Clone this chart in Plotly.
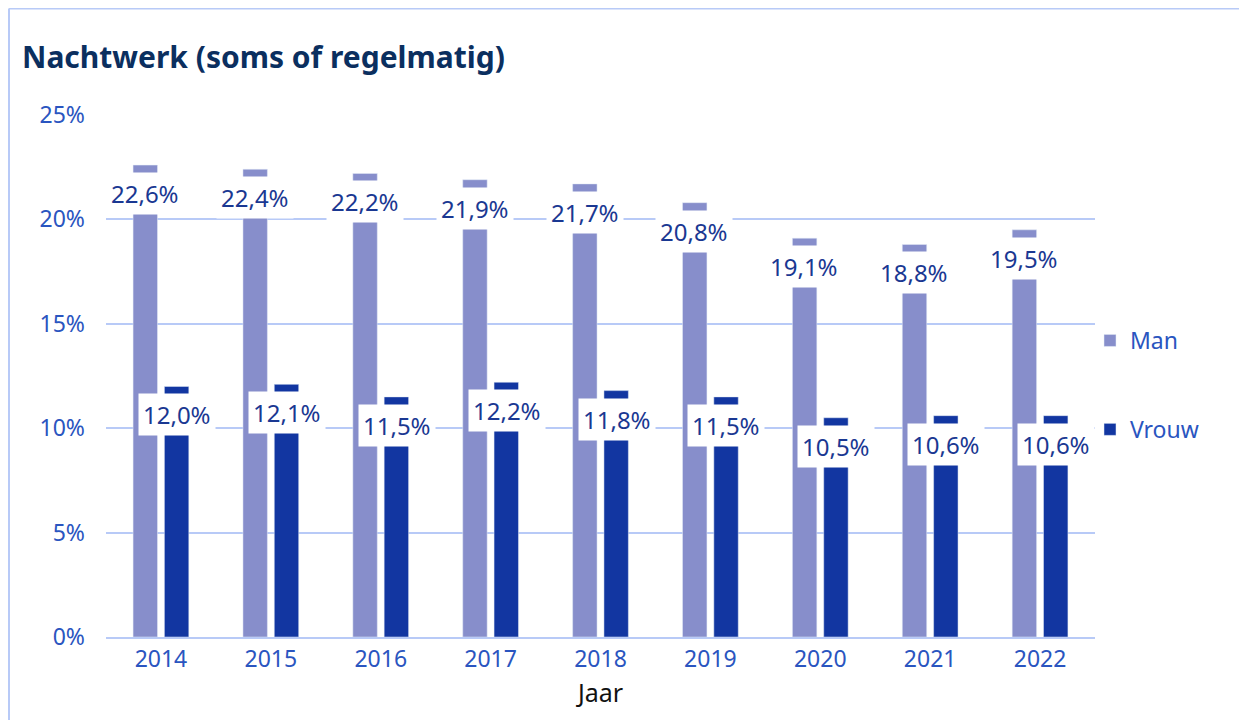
"""
Nachtwerk (soms of regelmatig) - grouped bars, man vs vrouw per jaar.
"""

import plotly.graph_objects as go

# data
JAREN = ["2014", "2015", "2016", "2017", "2018", "2019", "2020", "2021", "2022"]
MAN = [22.6, 22.4, 22.2, 21.9, 21.7, 20.8, 19.1, 18.8, 19.5]
VROUW = [12.0, 12.1, 11.5, 12.2, 11.8, 11.5, 10.5, 10.6, 10.6]
Y_TICKS = [0, 5, 10, 15, 20, 25]
Y_LABELS = ["0%", "5%", "10%", "15%", "20%", "25%"]

# style
MAN_COLOR = "#878ECB"
VROUW_COLOR = "#1236A1"
TITLE_COLOR = "#0B2F5F"
TICK_COLOR = "#2A55C0"
LABEL_COLOR = "#1A3892"
GRID_COLOR = "#B8CAF7"
FONT = "Noto Sans, Open Sans, sans-serif"

# the page adds an 8px body margin, so positions are shifted by that
OFF = 8
W, H = 1247, 720
M_L, M_T = 106 - OFF, 115 - OFF
M_R, M_B = W - (1095 - OFF), H - (637 - OFF)


def fmt(v: float) -> str:
    return f"{v:.1f}".replace(".", ",") + "%"


fig = go.Figure()
fig.add_trace(go.Bar(x=JAREN, y=MAN, name="Man", marker_color=MAN_COLOR,
                     legendgroup="m"))
fig.add_trace(go.Bar(x=JAREN, y=VROUW, name="Vrouw", marker_color=VROUW_COLOR,
                     legendgroup="v"))

# value labels with a white box; x is the category index, since year
# strings would be read as indices on a category axis
annotations = []
for i, (m, v) in enumerate(zip(MAN, VROUW)):
    for val, xs in ((m, -16), (v, 16)):
        annotations.append(dict(
            x=i, y=val, xref="x", yref="y", text=fmt(val),
            showarrow=False, xanchor="center", yanchor="top",
            xshift=xs, yshift=-7, bgcolor="white", borderpad=4,
            font=dict(size=24, color=LABEL_COLOR, family=FONT),
        ))

# outer frame (top + left edge only visible in the picture)
pw, ph = W - M_L - M_R, H - M_T - M_B
fx = (1 - M_L) / pw
fy = 1 + (M_T - 0.5) / ph
shapes = [
    dict(type="line", xref="paper", yref="paper", x0=fx, x1=1.3, y0=fy, y1=fy,
         line=dict(color=GRID_COLOR, width=2)),
    dict(type="line", xref="paper", yref="paper", x0=fx, x1=fx, y0=fy, y1=-0.3,
         line=dict(color=GRID_COLOR, width=2)),
]

fig.update_layout(
    width=W, height=H,
    margin=dict(l=M_L, r=M_R, t=M_T, b=M_B),
    paper_bgcolor="white", plot_bgcolor="white",
    font=dict(family=FONT, size=23, color=TICK_COLOR),
    title=dict(text="<b>Nachtwerk (soms of regelmatig)</b>", x=(22 - OFF) / W,
               xanchor="left", y=1 - (57 - OFF) / H, yanchor="middle",
               font=dict(size=30, color=TITLE_COLOR, family=FONT)),
    barmode="group", bargap=0.43, bargroupgap=0.22,
    showlegend=True,
    legend=dict(x=(1090 - OFF - M_L) / pw, xanchor="left",
                y=1 - (319 - OFF - M_T) / ph, yanchor="top", tracegroupgap=56,
                bgcolor="rgba(0,0,0,0)",
                font=dict(size=23, color=TICK_COLOR, family=FONT)),
    annotations=annotations,
    shapes=shapes,
)
fig.update_xaxes(
    type="category", range=[-0.5, len(JAREN) - 0.5], showgrid=False,
    showline=True, linecolor=GRID_COLOR, linewidth=2, ticks="",
    tickfont=dict(size=23, color=TICK_COLOR),
    title=dict(text="Jaar", font=dict(size=25, color="#111111"), standoff=12),
)
fig.update_yaxes(
    range=[0, 25], tickvals=Y_TICKS, ticktext=Y_LABELS, showgrid=True,
    gridcolor=GRID_COLOR, gridwidth=2, zeroline=False, showline=False,
    ticklabelstandoff=20, tickfont=dict(size=23, color=TICK_COLOR),
)

fig.write_html("out.html")
